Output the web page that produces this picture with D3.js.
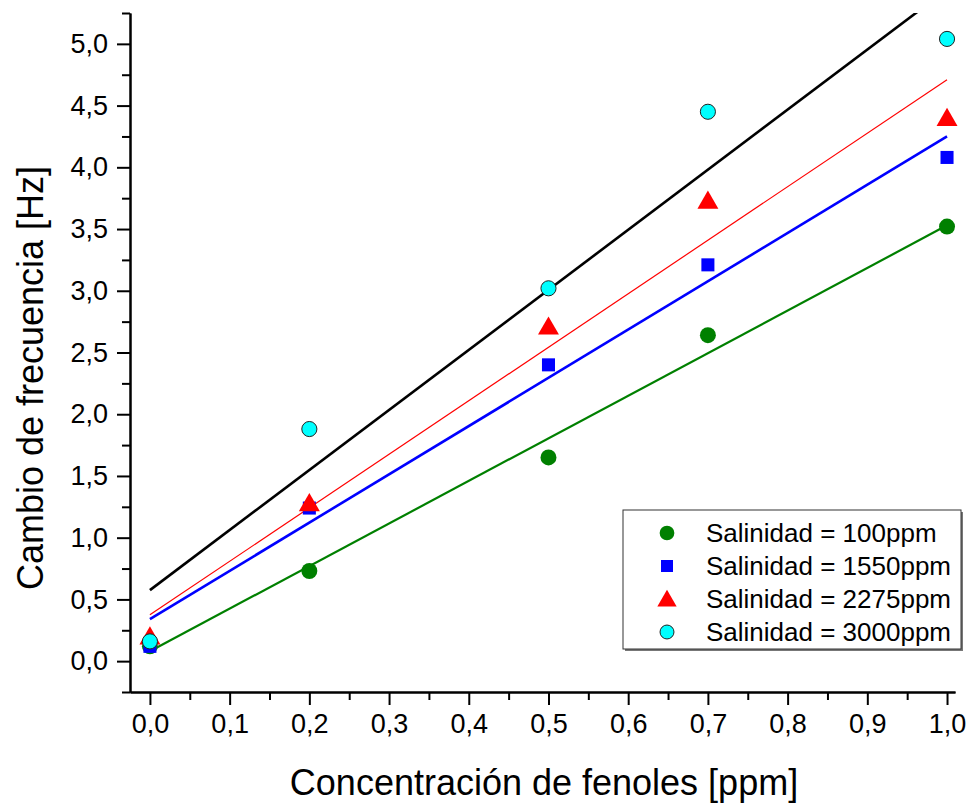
<!DOCTYPE html>
<html lang="es">
<head>
<meta charset="UTF-8">
<title>Cambio de frecuencia</title>
<script src="https://d3js.org/d3.v7.min.js"></script>
<style>
  body { margin: 0; background: #fff; }
  svg { font-family: "Liberation Sans", Arial, sans-serif; }
  .domain { stroke: #000; stroke-width: 2; }
</style>
</head>
<body>
<svg id="main" width="972" height="806"></svg>
<script>
// concentraciones medidas (ppm)
const concentrations = [0.0, 0.2, 0.5, 0.7, 1.0];
const seriesNames = ['Salinidad = 100ppm', 'Salinidad = 1550ppm', 'Salinidad = 2275ppm', 'Salinidad = 3000ppm'];
const sal100  = [0.12, 0.73, 1.65, 2.64, 3.52];
const sal1550 = [0.12, 1.24, 2.40, 3.21, 4.08];
const sal2275 = [0.20, 1.28, 2.71, 3.73, 4.40];
const sal3000 = [0.16, 1.88, 3.02, 4.45, 5.04];
// ajustes lineales: valor en x=0 y x=1
const fitAt0 = [0.08, 0.34, 0.375, 0.575];
const fitAt1 = [3.53, 4.25, 4.71, 5.44];
const xTicks = [0, 0.1, 0.2, 0.3, 0.4, 0.5, 0.6, 0.7, 0.8, 0.9, 1.0];
const yTicks = [0, 0.5, 1.0, 1.5, 2.0, 2.5, 3.0, 3.5, 4.0, 4.5, 5.0];

const colors = ['#008000', '#0000ff', '#ff0000', '#00ffff'];
const lineWidths = [2.2, 2.6, 1.2, 2.6];
const lineColors = ['#008000', '#0000ff', '#ff0000', '#000000'];
const shapes = [d3.symbolCircle, d3.symbolSquare, d3.symbolTriangle, d3.symbolCircle];
const sizes = [200, 170, 190, 180];

const allSeries = [sal100, sal1550, sal2275, sal3000];

let svg = d3.select('#main');
let xScale = d3.scaleLinear().domain([-0.025, 1.01]).range([130, 955]);
let yScale = d3.scaleLinear().domain([-0.25, 5.25]).range([692, 13]);
let fmt = v => d3.format('.1f')(v).replace('.', ',');

svg.append('clipPath').attr('id', 'plotclip')
  .append('rect')
  .attr('x', xScale.range()[0]).attr('y', yScale.range()[1])
  .attr('width', xScale.range()[1] - xScale.range()[0])
  .attr('height', yScale.range()[0] - yScale.range()[1]);

// ejes
let xMinor = d3.range(0.05, 1.0, 0.1);
let yMinor = d3.range(-0.25, 5.3, 0.5);

svg.append('g').attr('transform', 'translate(0,692)')
  .call(d3.axisBottom(xScale).tickValues(xMinor).tickSize(8).tickFormat('').tickSizeOuter(0))
  .call(g => g.selectAll('.tick line').attr('stroke-width', 2));
let xa = svg.append('g').attr('transform', 'translate(0,692)')
  .call(d3.axisBottom(xScale).tickValues(xTicks).tickSize(13).tickPadding(9).tickFormat(fmt).tickSizeOuter(0));
xa.selectAll('.tick line').attr('stroke-width', 2);
xa.selectAll('text').attr('font-size', 27).attr('fill', '#000').attr('font-family', '"Liberation Sans", Arial, sans-serif');

svg.append('g').attr('transform', 'translate(130,0)')
  .call(d3.axisLeft(yScale).tickValues(yMinor).tickSize(8).tickFormat('').tickSizeOuter(0))
  .call(g => g.selectAll('.tick line').attr('stroke-width', 2));
let ya = svg.append('g').attr('transform', 'translate(130,0)')
  .call(d3.axisLeft(yScale).tickValues(yTicks).tickSize(13).tickPadding(9).tickFormat(fmt).tickSizeOuter(0));
ya.selectAll('.tick line').attr('stroke-width', 2);
ya.selectAll('text').attr('font-size', 27).attr('fill', '#000').attr('font-family', '"Liberation Sans", Arial, sans-serif');

// títulos de ejes
svg.append('text')
  .attr('x', 544).attr('y', 795)
  .attr('text-anchor', 'middle').attr('font-size', 36)
  .text('Concentración de fenoles [ppm]');
svg.append('text')
  .attr('transform', 'translate(43,378) rotate(-90)')
  .attr('text-anchor', 'middle').attr('font-size', 36)
  .text('Cambio de frecuencia [Hz]');

// rectas de ajuste
let plot = svg.append('g').attr('clip-path', 'url(#plotclip)');
let line = d3.line().x(d => xScale(d[0])).y(d => yScale(d[1]));
plot.selectAll('path.fit')
  .data(fitAt0.map((v, i) => [[0, v], [1, fitAt1[i]]]))
  .enter().append('path')
  .attr('class', 'fit')
  .attr('d', line)
  .attr('fill', 'none')
  .attr('stroke', (d, i) => lineColors[i])
  .attr('stroke-width', (d, i) => lineWidths[i]);

// puntos
allSeries.forEach((vals, i) => {
  let sym = d3.symbol().type(shapes[i]).size(sizes[i]);
  svg.append('g').selectAll('path')
    .data(vals)
    .enter().append('path')
    .attr('d', sym)
    .attr('transform', (d, j) => `translate(${xScale(concentrations[j])},${yScale(d) + (i === 2 ? 2 : 0)})`)
    .attr('fill', colors[i])
    .attr('stroke', i === 3 ? '#222' : 'none')
    .attr('stroke-width', 1);
});

// leyenda
let legend = svg.append('g').attr('transform', 'translate(623,510)');
legend.append('rect')
  .attr('x', 2).attr('y', 2).attr('width', 338).attr('height', 139)
  .attr('fill', '#777');
legend.append('rect')
  .attr('width', 338).attr('height', 139)
  .attr('fill', '#fff').attr('stroke', '#333').attr('stroke-width', 1);
let rows = legend.selectAll('g.row')
  .data(seriesNames)
  .enter().append('g')
  .attr('class', 'row')
  .attr('transform', (d, i) => `translate(0,${23 + i * 33})`);
rows.append('path')
  .attr('d', (d, i) => d3.symbol().type(shapes[i]).size(sizes[i] * 0.85)())
  .attr('transform', (d, i) => `translate(44,${i === 2 ? 2 : 0})`)
  .attr('fill', (d, i) => colors[i])
  .attr('stroke', (d, i) => i === 3 ? '#222' : 'none');
rows.append('text')
  .attr('x', 83).attr('y', 9)
  .attr('font-size', 26)
  .text(d => d);
</script>
</body>
</html>
